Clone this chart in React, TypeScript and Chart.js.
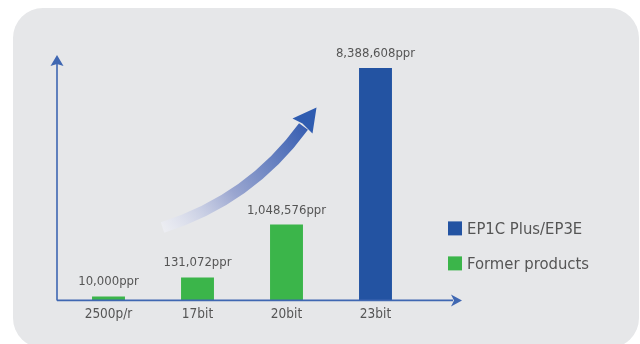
import React, { useEffect, useRef } from "react";
import { Chart, registerables } from "chart.js";

Chart.register(...registerables);

const categories = ["2500p/r", "17bit", "20bit", "23bit"];
const seriesNames = ["EP1C Plus/EP3E", "Former products"];
// illustrative bar heights (chart units) as drawn in the picture
const newProductHeights = [null, null, null, 233];
const formerProductHeights = [4, 23, 76, null];
const valueLabels = ["10,000ppr", "131,072ppr", "1,048,576ppr", "8,388,608ppr"];

const BLUE = "#2353a2";
const GREEN = "#3bb54a";
const AXIS = "#3f67b2";
const TEXT = "#555555";
const FONT = "'Liberation Sans Narrow', 'DejaVu Sans Condensed', 'Noto Sans', sans-serif";

const decorPlugin = {
  id: "decor",
  beforeDraw(chart: any) {
    const ctx = chart.ctx;
    ctx.save();
    // rounded background panel
    const x = 13, y = 8, w = 626, h = 340, r = 30;
    ctx.fillStyle = "#e6e7e9";
    ctx.beginPath();
    ctx.moveTo(x + r, y);
    ctx.lineTo(x + w - r, y);
    ctx.arcTo(x + w, y, x + w, y + r, r);
    ctx.lineTo(x + w, y + h - r);
    ctx.arcTo(x + w, y + h, x + w - r, y + h, r);
    ctx.lineTo(x + r, y + h);
    ctx.arcTo(x, y + h, x, y + h - r, r);
    ctx.lineTo(x, y + r);
    ctx.arcTo(x, y, x + r, y, r);
    ctx.closePath();
    ctx.fill();

    const ca = chart.chartArea;
    const xs = chart.scales.x;
    // curved trend arrow (decoration)
    const x0 = xs.getPixelForValue(0) + 54, y0 = ca.bottom - 73;
    const x2 = xs.getPixelForValue(2) + 17, y2 = ca.bottom - 174;
    const cx = xs.getPixelForValue(1) + 53, cy = ca.bottom - 101;
    const grad = ctx.createLinearGradient(x0, y0, x2, y2);
    grad.addColorStop(0, "rgba(240,241,248,0.6)");
    grad.addColorStop(0.45, "#9aa6d0");
    grad.addColorStop(1, "#3a60b2");
    ctx.strokeStyle = grad;
    ctx.lineWidth = 11;
    ctx.lineCap = "butt";
    ctx.beginPath();
    ctx.moveTo(x0, y0);
    ctx.quadraticCurveTo(cx, cy, x2, y2);
    ctx.stroke();
    // arrow head
    const tx = x2 + 13, ty = y2 - 19;
    ctx.fillStyle = "#2f5cb0";
    ctx.beginPath();
    ctx.moveTo(tx, ty);
    ctx.lineTo(tx - 24, ty + 11);
    ctx.lineTo(x2 - 1, y2 - 3);
    ctx.lineTo(tx - 4, ty + 26);
    ctx.closePath();
    ctx.fill();
    ctx.restore();
  },
  afterDraw(chart: any) {
    const ctx = chart.ctx;
    const ca = chart.chartArea;
    ctx.save();
    // axes with arrows
    const ax = ca.left - 7;
    const ay = ca.bottom;
    ctx.strokeStyle = AXIS;
    ctx.fillStyle = AXIS;
    ctx.lineWidth = 1.6;
    ctx.beginPath();
    ctx.moveTo(ax, ay);
    ctx.lineTo(ax, ca.top);
    ctx.moveTo(ax, ay);
    ctx.lineTo(ca.right + 33, ay);
    ctx.stroke();
    // y arrowhead
    ctx.beginPath();
    ctx.moveTo(ax, ca.top - 6);
    ctx.lineTo(ax - 6.5, ca.top + 5);
    ctx.lineTo(ax, ca.top + 3);
    ctx.lineTo(ax + 6.5, ca.top + 5);
    ctx.closePath();
    ctx.fill();
    // x arrowhead
    const tip = ca.right + 42;
    ctx.beginPath();
    ctx.moveTo(tip, ay);
    ctx.lineTo(tip - 11, ay - 6);
    ctx.lineTo(tip - 8, ay);
    ctx.lineTo(tip - 11, ay + 6);
    ctx.closePath();
    ctx.fill();

    // value labels above bars
    ctx.fillStyle = TEXT;
    ctx.font = `13px ${FONT}`;
    ctx.textAlign = "center";
    ctx.textBaseline = "alphabetic";
    for (let i = 0; i < categories.length; i++) {
      for (let d = 0; d < chart.data.datasets.length; d++) {
        const v = chart.data.datasets[d].data[i];
        if (v == null) continue;
        const el = chart.getDatasetMeta(d).data[i];
        ctx.fillText(valueLabels[i], el.x, el.y - 11);
      }
    }

    // legend
    ctx.font = `16.5px ${FONT}`;
    ctx.textAlign = "left";
    ctx.textBaseline = "middle";
    chart.data.datasets.forEach((ds: any, k: number) => {
      const lx = ca.right + 28;
      const ly = ca.bottom - 79 + k * 35;
      ctx.fillStyle = ds.backgroundColor;
      ctx.fillRect(lx, ly, 14, 14);
      ctx.fillStyle = TEXT;
      ctx.fillText(ds.label, lx + 19, ly + 8);
    });
    ctx.restore();
  },
};

export default function App() {
  const ref = useRef<HTMLCanvasElement>(null);
  useEffect(() => {
    const chart = new Chart(ref.current!, {
      type: "bar",
      data: {
        labels: categories,
        datasets: [
          { label: seriesNames[0], data: newProductHeights, backgroundColor: BLUE },
          { label: seriesNames[1], data: formerProductHeights, backgroundColor: GREEN },
        ],
      },
      options: {
        responsive: false,
        animation: false,
        events: [],
        layout: { padding: { left: 64, right: 220, top: 61, bottom: 15.4 } },
        datasets: { bar: { grouped: false, categoryPercentage: 1, barPercentage: 0.37 } } as any,
        plugins: { legend: { display: false }, tooltip: { enabled: false } },
        scales: {
          x: {
            grid: { display: false, drawTicks: false },
            border: { display: false },
            ticks: { color: TEXT, padding: 6, font: { family: FONT, size: 13.5 } },
          },
          y: { display: false, min: 0, max: 240 },
        },
      },
      plugins: [decorPlugin],
    });
    return () => chart.destroy();
  }, []);
  return (
    <div style={{ position: "absolute", left: 0, top: 0, width: 640, height: 344 }}>
      <canvas ref={ref} width={640} height={344} style={{ display: "block" }} />
    </div>
  );
}
